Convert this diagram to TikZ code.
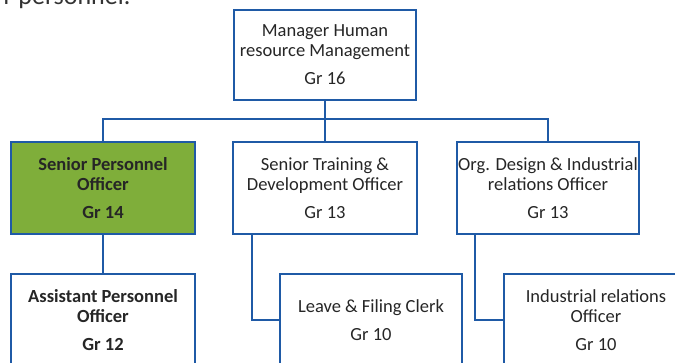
\documentclass[tikz,border=0pt]{standalone}
\usepackage{fontspec}
\setmainfont{Carlito}
\usepackage{tikz}
\usetikzlibrary{calc}

\definecolor{chartblue}{HTML}{1F5AA6}
\definecolor{postgreen}{HTML}{7FAE3A}

\begin{document}
\begin{tikzpicture} [x=1pt, y=-1pt,
  post/.style={draw=chartblue, line width=2.4pt, fill=white, inner sep=0pt,
    minimum height=92pt, align=center, font=\fontsize{18.5}{20}\selectfont, text=black!85},
  boldpost/.style={post, font=\fontsize{18.5}{20}\selectfont\bfseries},
  link/.style={chartblue, line width=2.4pt}]
\useasboundingbox (0,0) rectangle (675,363);

\node[anchor=base west, font=\fontsize{26}{30}\selectfont, text=black!80] (intro) at (0,5) {r personnel.};

\node[post, minimum width=182pt, minimum height=90pt] (mgr) at (325,55) {Manager Human\\resource Management\\[8pt]Gr 16};

\coordinate (bar) at (325,119);

\node[boldpost, fill=postgreen, minimum width=184pt] (spo) at (103,188) {Senior Personnel\\Officer\\[8pt]Gr 14};
\node[post, minimum width=184pt] (std) at (325,188) {Senior Training \&\\Development Officer\\[8pt]Gr 13};
\node[post, minimum width=182pt] (odi) at (548,188) {Org. Design \& Industrial\\relations Officer\\[8pt]Gr 13};

\node[boldpost, minimum width=184pt] (apo) at (103,320) {Assistant Personnel\\Officer\\[8pt]Gr 12};
\node[post, minimum width=182pt] (lfc) at (371,320) {Leave \& Filing Clerk\\[8pt]Gr 10};
\node[post, minimum width=184pt] (iro) at (596,320) {Industrial relations\\Officer\\[8pt]Gr 10};

\draw[link] (mgr.south) -- (bar);
\draw[link] (spo.north) |- (bar) -| (odi.north);
\draw[link] (std.north) -- (bar);

\draw[link] (spo.south) -- (apo.north);
\draw[link] ([xshift=20pt]std.south west) |- (lfc.west);
\draw[link] ([xshift=19pt]odi.south west) |- (iro.west);

\end{tikzpicture}
\end{document}
